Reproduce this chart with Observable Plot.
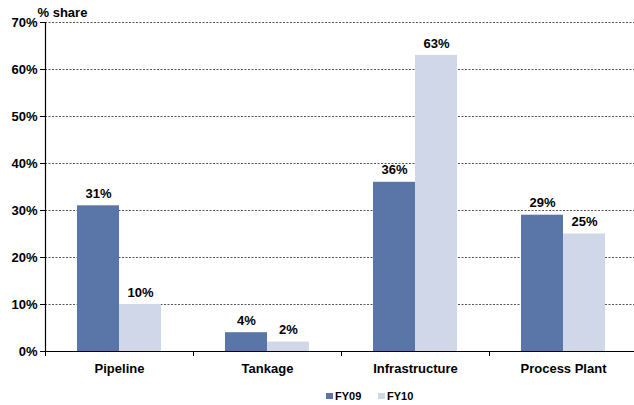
<!DOCTYPE html>
<html>
<head>
<meta charset="utf-8">
<script src="https://cdn.jsdelivr.net/npm/d3@7"></script>
<script src="https://cdn.jsdelivr.net/npm/@observablehq/plot@0.6"></script>
<style>
  body { margin: 0; background: #fff; font-family: "Liberation Sans", Arial, sans-serif; }
  #legend { position: relative; height: 20px; font-size: 11px; font-weight: bold; color: #000; }
  #legend .item { position: absolute; top: 5px; display: flex; align-items: center; }
  #legend .sw { width: 7px; height: 6px; margin-right: 2px; }
</style>
</head>
<body>
<div id="chart"></div>
<div id="legend"></div>
<script>
// Revenue share by business segment
const categories = ["Pipeline", "Tankage", "Infrastructure", "Process Plant"];
const fy09 = [31, 4, 36, 29];
const fy10 = [10, 2, 63, 25];
const series = ["FY09", "FY10"];
const colors = ["#5a75a8", "#cfd7e8"];
const yTicks = [0, 10, 20, 30, 40, 50, 60, 70];

const rows = categories.flatMap((category, i) => [
  {category, i, series: "FY09", value: fy09[i]},
  {category, i, series: "FY10", value: fy10[i]}
]);

const barW = 42 / 148; // width of one bar, in category units
const left = d => d.series === "FY09";

const chart = Plot.plot({
  width: 634,
  height: 385,
  marginTop: 22,
  marginBottom: 34,
  marginLeft: 45,
  marginRight: 0,
  style: {fontFamily: "Liberation Sans, Arial, sans-serif", fontSize: "13px", color: "#000"},
  x: {domain: [0, categories.length], range: [45, 637]},
  y: {domain: [0, 70]},
  color: {domain: series, range: colors},
  marks: [
    Plot.ruleY(yTicks.slice(1), {stroke: "#555", strokeDasharray: "2,1.5", strokeWidth: 1}),
    Plot.rectY(rows, {
      x1: d => d.i + 0.5 - (left(d) ? barW : 0),
      x2: d => d.i + 0.5 + (left(d) ? 0 : barW),
      y: "value",
      fill: "series"
    }),
    Plot.text(rows, {
      x: d => d.i + 0.5 + (left(d) ? -barW / 2 : barW / 2),
      y: "value",
      text: d => `${d.value}%`,
      dy: -12,
      fontWeight: "bold",
      fontSize: 13,
      fill: "#000"
    }),
    Plot.ruleY([0], {stroke: "#000", strokeWidth: 1.2}),
    Plot.ruleX([0], {y1: 0, y2: 70, stroke: "#000", strokeWidth: 1.2}),
    Plot.axisY({ticks: yTicks, tickFormat: d => `${d}%`, tickSize: 5, tickPadding: 3,
      fontWeight: "bold", fontSize: 13, label: null, stroke: "#000"}),
    Plot.axisX({ticks: d3.range(categories.length + 1), tickFormat: () => "", tickSize: 5, label: null, stroke: "#000"}),
    Plot.text(categories, {
      x: (d, i) => i + 0.5,
      y: 0,
      text: d => d,
      dy: 17,
      fontWeight: "bold",
      fontSize: 13,
      fill: "#000"
    }),
    Plot.text(["% share"], {
      frameAnchor: "top-left",
      textAnchor: "start",
      lineAnchor: "middle",
      dx: -8,
      dy: -10,
      fontWeight: "bold",
      fontSize: 13,
      fill: "#000"
    })
  ]
});
document.getElementById("chart").append(chart);

// Legend below the chart
const legend = document.getElementById("legend");
const legendX = [326, 378];
series.forEach((s, k) => {
  const item = document.createElement("div");
  item.className = "item";
  item.style.left = legendX[k] + "px";
  const sw = document.createElement("span");
  sw.className = "sw";
  sw.style.background = colors[k];
  const label = document.createElement("span");
  label.textContent = s;
  item.append(sw, label);
  legend.append(item);
});
</script>
</body>
</html>
